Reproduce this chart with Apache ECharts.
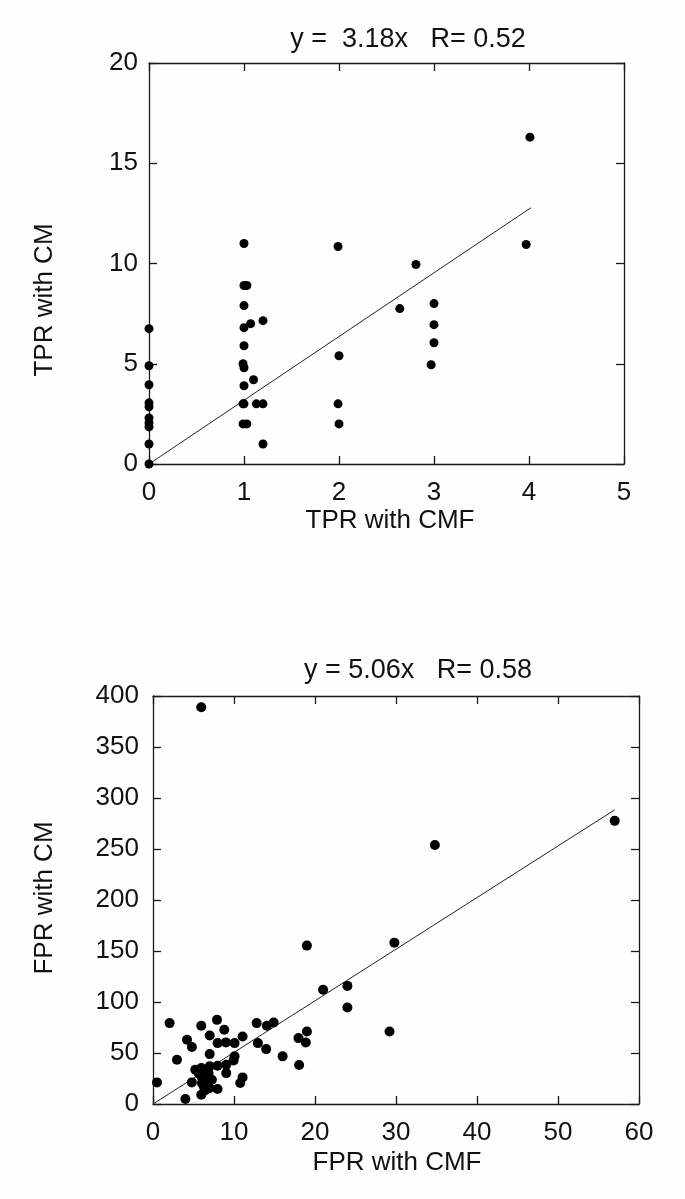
<!DOCTYPE html>
<html>
<head>
<meta charset="utf-8">
<script src="https://cdn.jsdelivr.net/npm/echarts@6/dist/echarts.min.js"></script>
<style>
html,body{margin:0;padding:0;background:#fefefc;}
#chart{width:685px;height:1199px;}
</style>
</head>
<body>
<div id="chart"></div>
<script>
// ---- Top panel: TPR ----
var tprXTicks = [0, 1, 2, 3, 4, 5];
var tprYTicks = [0, 5, 10, 15, 20];
var tprPoints = [
  [0, 6.75], [0, 4.9], [0, 3.95], [0, 3.05], [0, 2.85], [0, 2.3], [0, 2.05], [0, 1.85], [0, 1.0], [0, 0],
  [1.0, 11.0], [1.0, 8.9], [1.03, 8.9], [1.0, 7.9], [1.0, 6.8], [1.07, 7.0], [1.2, 7.15], [1.0, 5.9],
  [0.99, 5.0], [1.0, 4.8], [1.1, 4.2], [1.0, 3.9], [0.99, 3.0], [1.0, 3.0], [1.13, 3.0], [1.2, 3.0],
  [0.99, 2.0], [1.03, 2.0], [1.2, 1.0],
  [1.99, 10.85], [2.0, 5.4], [1.99, 3.0], [2.0, 2.0],
  [2.64, 7.75], [2.81, 9.95],
  [3.0, 8.0], [3.0, 6.95], [3.0, 6.05], [2.97, 4.95],
  [3.97, 10.95], [4.01, 16.3]
];
var tprFit = [[0, 0], [4.02, 12.78]];
var tprTitle = 'y =  3.18x   R= 0.52';
var tprXName = 'TPR with CMF';
var tprYName = 'TPR with CM';

// ---- Bottom panel: FPR ----
var fprXTicks = [0, 10, 20, 30, 40, 50, 60];
var fprYTicks = [0, 50, 100, 150, 200, 250, 300, 350, 400];
var fprPoints = [
  [5.96, 389], [34.8, 254], [57.0, 277.6], [19.0, 155.3], [29.8, 158.2],
  [21.0, 112], [24.0, 115.8], [24.0, 94.6], [29.2, 71.1],
  [2.05, 79.3], [5.96, 76.7], [7.9, 82.5], [8.8, 72.8], [7.0, 67.2], [4.2, 63], [4.8, 55.8],
  [7.97, 59.7], [9.0, 60.4], [10.07, 59.7], [11.06, 66.2], [12.8, 79.3], [14.06, 76.7], [14.9, 79.9],
  [12.95, 59.7], [13.97, 53.8], [16.0, 46.7], [17.96, 64.6], [19.0, 71.1], [18.86, 60.4], [18.04, 38.2],
  [2.96, 43.4], [7.0, 48.9], [10.07, 46.7], [9.95, 42.7], [9.04, 38.5], [9.04, 30.3], [7.97, 37.5],
  [7.0, 36.9], [5.96, 35.2], [5.22, 33.6], [11.06, 26.1], [10.77, 20.6], [0.49, 21.2], [4.8, 21.2],
  [4.0, 4.9], [5.96, 9.1], [5.96, 27.1], [6.66, 22.2], [7.0, 15.7], [7.97, 14.7], [6.25, 17.3],
  [5.63, 30.3], [6.86, 30.3], [7.27, 23.8], [6.45, 13.4], [6.04, 20.6]
];
var fprFit = [[0, 0], [57.0, 288.4]];
var fprTitle = 'y = 5.06x   R= 0.58';
var fprXName = 'FPR with CMF';
var fprYName = 'FPR with CM';

var FONT = '"Liberation Sans", Arial, sans-serif';
var TXT = '#111';
var AX = '#1a1a1a';

function mkX(gridIndex, ticks, pos, showLabel) {
  return {
    type: 'value', gridIndex: gridIndex, position: pos,
    min: ticks[0], max: ticks[ticks.length - 1], interval: ticks[1] - ticks[0],
    axisLine: {show: true, onZero: false, lineStyle: {color: AX, width: 1.3}},
    axisTick: {show: true, inside: true, length: 8, lineStyle: {color: AX, width: 1.3}},
    axisLabel: {show: showLabel, margin: 16, fontSize: 26, color: TXT, fontFamily: FONT},
    splitLine: {show: false}
  };
}
function mkY(gridIndex, ticks, pos, showLabel, margin) {
  return {
    type: 'value', gridIndex: gridIndex, position: pos,
    min: ticks[0], max: ticks[ticks.length - 1], interval: ticks[1] - ticks[0],
    axisLine: {show: true, onZero: false, lineStyle: {color: AX, width: 1.3}},
    axisTick: {show: true, inside: true, length: 8, lineStyle: {color: AX, width: 1.3}},
    axisLabel: {show: showLabel, margin: margin, fontSize: 26, color: TXT, fontFamily: FONT},
    splitLine: {show: false}
  };
}
function txt(text, x, y, size, rot) {
  return {
    type: 'text', x: x, y: y, rotation: rot || 0, z: 100,
    style: {text: text, fontSize: size, fontFamily: FONT, fill: TXT, align: 'center', verticalAlign: 'middle'}
  };
}

var chart = echarts.init(document.getElementById('chart'), null, {renderer: 'canvas'});
chart.setOption({
  backgroundColor: '#fefefc',
  animation: false,
  grid: [
    {left: 149, top: 63, width: 475, height: 401},
    {left: 153, top: 696, width: 486, height: 408}
  ],
  xAxis: [
    mkX(0, tprXTicks, 'bottom', true),
    mkX(0, tprXTicks, 'top', false),
    mkX(1, fprXTicks, 'bottom', true),
    mkX(1, fprXTicks, 'top', false)
  ],
  yAxis: [
    mkY(0, tprYTicks, 'left', true, 11),
    mkY(0, tprYTicks, 'right', false, 11),
    mkY(1, fprYTicks, 'left', true, 14),
    mkY(1, fprYTicks, 'right', false, 14)
  ],
  series: [
    {type: 'line', xAxisIndex: 0, yAxisIndex: 0, data: tprFit, symbol: 'none', z: 5,
     lineStyle: {color: '#222', width: 1}},
    {type: 'scatter', xAxisIndex: 0, yAxisIndex: 0, data: tprPoints, symbolSize: 9, clip: false, z: 10,
     itemStyle: {color: '#000', opacity: 1}},
    {type: 'line', xAxisIndex: 2, yAxisIndex: 2, data: fprFit, symbol: 'none', z: 5,
     lineStyle: {color: '#222', width: 1}},
    {type: 'scatter', xAxisIndex: 2, yAxisIndex: 2, data: fprPoints, symbolSize: 10, clip: false, z: 10,
     itemStyle: {color: '#000', opacity: 1}}
  ],
  graphic: [
    txt(tprTitle, 408, 40, 27),
    txt(tprXName, 390, 521, 26),
    txt(tprYName, 45, 300, 26, Math.PI / 2),
    txt(fprTitle, 418, 671, 27),
    txt(fprXName, 397, 1163, 26),
    txt(fprYName, 45, 898, 26, Math.PI / 2)
  ]
});
</script>
</body>
</html>
